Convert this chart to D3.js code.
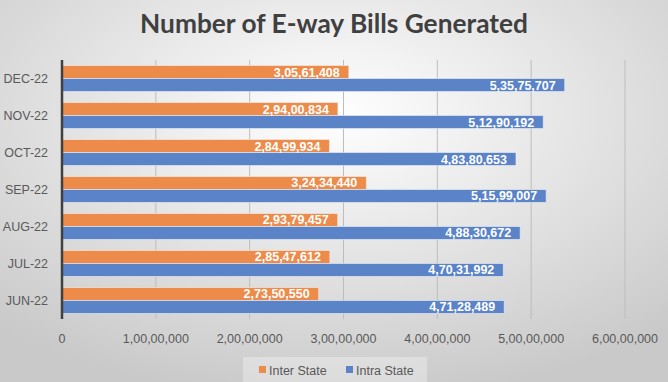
<!DOCTYPE html>
<meta charset="utf-8">
<style>
body { margin: 0; }
text { font-family: "Liberation Sans", Arial, sans-serif; }
</style>
<body>
<script src="https://cdn.jsdelivr.net/npm/d3@7"></script>
<script>

// chart data, top to bottom as in the picture
var months = ["DEC-22", "NOV-22", "OCT-22", "SEP-22", "AUG-22", "JUL-22", "JUN-22"];
var interState = [30561408, 29400834, 28499934, 32434440, 29379457, 28547612, 27350550];
var intraState = [53575707, 51290192, 48380653, 51599007, 48830672, 47031992, 47128489];
var seriesNames = ["Inter State", "Intra State"];
var xTicks = [0, 10000000, 20000000, 30000000, 40000000, 50000000, 60000000];

var W = 668, H = 382;
var margin = {top: 60, right: 43, bottom: 63, left: 62},
    width = W - margin.left - margin.right,
    height = H - margin.top - margin.bottom;

var colors = ["#ED8B4B", "#5B83C8"];

// indian style grouping 1,00,00,000
function inr(n) {
  var s = String(Math.round(n));
  if (s.length <= 3) return s;
  var last3 = s.slice(-3), rest = s.slice(0, -3);
  rest = rest.replace(/\B(?=(\d{2})+(?!\d))/g, ",");
  return rest + "," + last3;
}

var svg = d3.select("body").append("svg")
    .attr("width", W)
    .attr("height", H);

// background
var defs = svg.append("defs");
var grad = defs.append("radialGradient")
    .attr("id", "bg")
    .attr("cx", "50%").attr("cy", "30%").attr("r", "75%");
grad.append("stop").attr("offset", "0%").attr("stop-color", "#ffffff");
grad.append("stop").attr("offset", "100%").attr("stop-color", "#c9c9c9");
svg.append("rect").attr("width", W).attr("height", H).attr("fill", "url(#bg)");

// title
var title = svg.append("text")
    .attr("x", 334).attr("y", 33)
    .attr("text-anchor", "middle")
    .style("font-family", "Lato, 'Open Sans', sans-serif")
    .style("font-weight", "bold")
    .style("font-size", "26px")
    .attr("fill", "#404040")
    .text("Number of E-way Bills Generated");
var tw = title.node().getComputedTextLength();
title.style("font-size", (26 * 388 / tw) + "px");

var g = svg.append("g")
    .attr("transform", "translate(" + margin.left + "," + margin.top + ")");

var x = d3.scaleLinear().domain([0, 60000000]).range([0, 563]);
var y = d3.scaleBand().domain(months).range([0, height]).paddingInner(0.297).paddingOuter(0.149);
var y1 = d3.scaleBand().domain(seriesNames).range([0, y.bandwidth()]);

// gridlines
g.selectAll(".grid")
    .data(xTicks.slice(1))
  .enter().append("line")
    .attr("x1", function(d) { return x(d); })
    .attr("x2", function(d) { return x(d); })
    .attr("y1", 0).attr("y2", height)
    .attr("stroke", "#bdbdbd")
    .attr("stroke-width", 1);

// bars
var rows = months.map(function(m, i) {
  return {month: m, values: [interState[i], intraState[i]]};
});

var grp = g.selectAll(".row")
    .data(rows)
  .enter().append("g")
    .attr("transform", function(d) { return "translate(0," + y(d.month) + ")"; });

grp.selectAll("rect")
    .data(function(d) { return d.values.map(function(v, j) { return {v: v, s: seriesNames[j], j: j}; }); })
  .enter().append("rect")
    .attr("x", 0)
    .attr("y", function(d) { return y1(d.s); })
    .attr("width", function(d) { return x(d.v); })
    .attr("height", y1.bandwidth())
    .attr("fill", function(d) { return colors[d.j]; })
    .attr("stroke", "#f2f2f2")
    .attr("stroke-opacity", 0.6)
    .attr("stroke-width", 1);

grp.selectAll(".lbl")
    .data(function(d) { return d.values.map(function(v, j) { return {v: v, s: seriesNames[j], j: j}; }); })
  .enter().append("text")
    .attr("x", function(d) { return x(d.v) - 9; })
    .attr("y", function(d) { return y1(d.s) + y1.bandwidth() / 2; })
    .attr("dy", "0.36em")
    .attr("text-anchor", "end")
    .attr("fill", "#ffffff")
    .style("font-weight", "bold")
    .style("font-size", "12.5px")
    .text(function(d) { return inr(d.v); });

// y axis line and labels
g.append("line")
    .attr("x1", 0).attr("x2", 0)
    .attr("y1", 0).attr("y2", height)
    .attr("stroke", "#404040")
    .attr("stroke-width", 2.5);

g.selectAll(".ylab")
    .data(months)
  .enter().append("text")
    .attr("x", -14)
    .attr("y", function(d) { return y(d) + y.bandwidth() / 2; })
    .attr("dy", "0.36em")
    .attr("text-anchor", "end")
    .attr("fill", "#595959")
    .style("font-size", "12.5px")
    .text(function(d) { return d; });

// x tick labels
g.selectAll(".xlab")
    .data(xTicks)
  .enter().append("text")
    .attr("x", function(d) { return x(d); })
    .attr("y", height + 24)
    .attr("text-anchor", "middle")
    .attr("fill", "#595959")
    .style("font-size", "12.5px")
    .text(function(d) { return inr(d); });

// legend
var leg = svg.append("g");
leg.append("rect")
    .attr("x", 243).attr("y", 357).attr("width", 184).attr("height", 25)
    .attr("fill", "#ffffff").attr("fill-opacity", 0.3);
var lx = [259, 346];
seriesNames.forEach(function(s, i) {
  leg.append("rect")
      .attr("x", lx[i]).attr("y", 366)
      .attr("width", 7).attr("height", 7)
      .attr("fill", colors[i]);
  leg.append("text")
      .attr("x", lx[i] + 10).attr("y", 370)
      .attr("dy", "0.36em")
      .attr("fill", "#595959")
      .style("font-size", "12.5px")
      .text(s);
});

</script>
</body>
